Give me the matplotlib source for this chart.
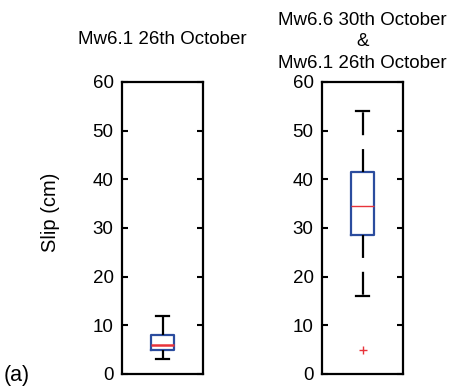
import matplotlib
matplotlib.use("Agg")
import matplotlib.pyplot as plt

plt.rcParams['font.family'] = ['Liberation Sans', 'DejaVu Sans']
plt.rcParams['lines.scale_dashes'] = False

# box statistics (slip, cm)
titles = ["Mw6.1 26th October",
          "Mw6.6 30th October\n&\nMw6.1 26th October"]
medians = [6.0, 34.5]
q1s = [5.0, 28.5]
q3s = [8.0, 41.5]
whis_lo = [3.0, 16.0]
whis_hi = [12.0, 54.0]
outliers = [[], [5.0]]
yticks = [0, 10, 20, 30, 40, 50, 60]

BLUE = '#2b4c9e'
RED = '#e8333b'

W, H = 451, 386
fig = plt.figure(figsize=(W / 100, H / 100), dpi=100)

ax_left = [122, 322]
title_y = [39, 42]
med_lw = [1.8, 1.0]
for i in range(2):
    ax = fig.add_axes([ax_left[i] / W, (H - 374) / H, 81 / W, 292 / H])
    stats = [dict(med=medians[i], q1=q1s[i], q3=q3s[i],
                  whislo=whis_lo[i], whishi=whis_hi[i], fliers=outliers[i])]
    ax.bxp(stats, positions=[1], widths=0.29, showfliers=True,
           boxprops=dict(color=BLUE, linewidth=1.6),
           medianprops=dict(color=RED, linewidth=med_lw[i]),
           whiskerprops=dict(color='black', linewidth=1.6,
                             linestyle=(0, (16.5, 10))),
           capprops=dict(color='black', linewidth=1.6),
           capwidths=0.15,
           flierprops=dict(marker='+', markeredgecolor=RED, markersize=6,
                           markeredgewidth=1.0, linestyle='none'))
    ax.set_xlim(0.5, 1.5)
    ax.set_ylim(0, 60)
    ax.set_yticks(yticks)
    ax.set_xticks([])
    ax.tick_params(axis='y', direction='in', length=4, width=1.5,
                   left=True, right=True, labelsize=13.5, pad=6)
    for s in ax.spines.values():
        s.set_linewidth(1.6)
    fig.text((ax_left[i] + 40.5) / W, 1 - title_y[i] / H, titles[i],
             fontsize=13.5, ha='center', va='center', linespacing=1.33)

fig.text(50 / W, 1 - 212 / H, "Slip (cm)", rotation=90, fontsize=14.5,
         ha='center', va='center')
fig.text(4 / W, 1 - 376 / H, "(a)", fontsize=15.5, ha='left', va='center')

fig.savefig("out.png", dpi=100)
